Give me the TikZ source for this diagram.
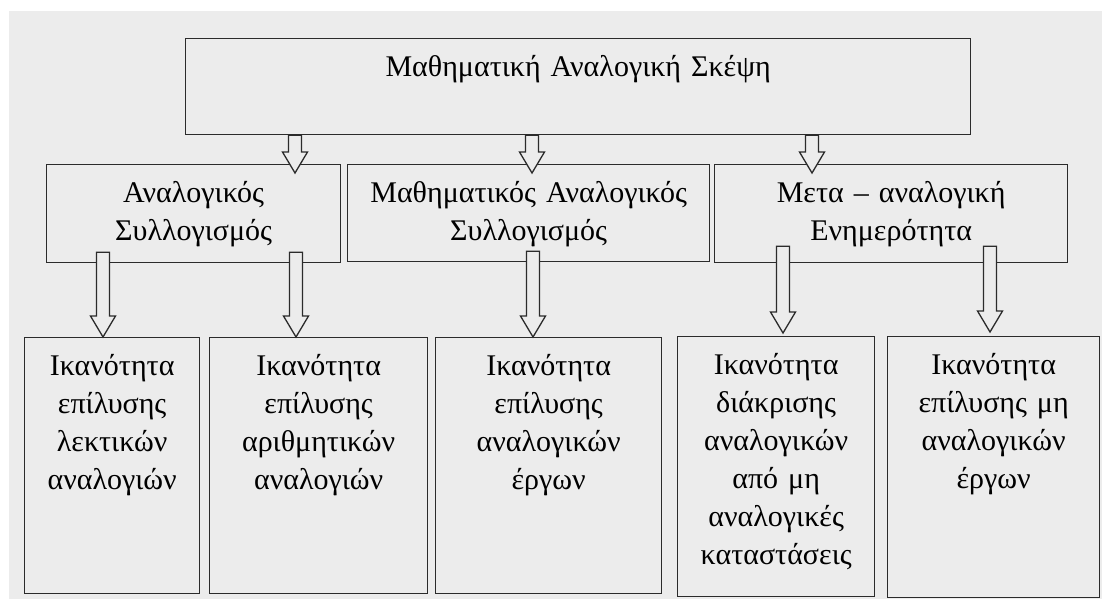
\documentclass[tikz,border=0pt]{standalone}
\usepackage{fontspec}
\setmainfont{Liberation Serif}
\usepackage{xcolor}
\usetikzlibrary{calc}

\definecolor{panel}{HTML}{ECECEC}
\definecolor{edge}{HTML}{2B2B2B}

% hollow block arrow: start of the shaft -> tip
\newcommand{\hollowarrow}[2]{%
  \draw[arrowbody] let \p1=(#1), \p2=(#2) in
    (\x1-6.5pt,\y1) -- (\x1-6.5pt,\y2+21pt) -- (\x1-12.5pt,\y2+21pt) -- (\x1,\y2)
    -- (\x1+12.5pt,\y2+21pt) -- (\x1+6.5pt,\y2+21pt) -- (\x1+6.5pt,\y1) -- cycle;}

\begin{document}
\begin{tikzpicture}[
  x=1pt, y=-1pt,
  font=\fontsize{30}{38}\selectfont,
  box/.style 2 args={draw=edge, line width=1.3pt, anchor=north west, align=center,
    inner xsep=4pt, inner ysep=0pt, text width=#1pt-8pt,
    text height=38pt, text depth=#2pt-38pt},
  arrowbody/.style={draw=edge, line width=1.3pt, fill=panel}
]
  \fill[white] (0,0) rectangle (1102,599);
  \fill[panel] (9,11) rectangle (1102,599);

  \node[box={785}{96}] (top) at (185,38) {Μαθηματική Αναλογική Σκέψη};

  \node[box={294}{98}] (l1) at (46,164)  {Αναλογικός\\Συλλογισμός};
  \node[box={362}{97}] (l2) at (347,164) {Μαθηματικός Αναλογικός\\Συλλογισμός};
  \node[box={353}{98}] (l3) at (714,164) {Μετα – αναλογική\\Ενημερότητα};

  \node[box={175}{256}] (b1) at (24,337)  {Ικανότητα\\επίλυσης\\λεκτικών\\αναλογιών};
  \node[box={218}{256}] (b2) at (209,337) {Ικανότητα\\επίλυσης\\αριθμητικών\\αναλογιών};
  \node[box={226}{256}] (b3) at (435,337) {Ικανότητα\\επίλυσης\\αναλογικών\\έργων};
  \node[box={197}{260}] (b4) at (677,336) {Ικανότητα\\διάκρισης\\αναλογικών\\από μη\\αναλογικές\\καταστάσεις};
  \node[box={212}{261}] (b5) at (887,336) {Ικανότητα\\επίλυσης μη\\αναλογικών\\έργων};

  % top -> second row
  \hollowarrow{[xshift=110pt]top.south west}{[yshift=-9pt]l1.north}
  \hollowarrow{[xshift=347pt]top.south west}{[yshift=-9pt]l2.north}
  \hollowarrow{[xshift=627pt]top.south west}{[yshift=-9pt]l3.north}

  % second row -> abilities
  \hollowarrow{[xshift=57pt,yshift=11pt]l1.south west}{b1.north}
  \hollowarrow{[xshift=250pt,yshift=11pt]l1.south west}{b2.north}
  \hollowarrow{[xshift=186pt,yshift=11pt]l2.south west}{b3.north}
  \hollowarrow{[xshift=69pt,yshift=17pt]l3.south west}{[yshift=3pt]b4.north}
  \hollowarrow{[xshift=276pt,yshift=17pt]l3.south west}{[yshift=4pt]b5.north}
\end{tikzpicture}
\end{document}
